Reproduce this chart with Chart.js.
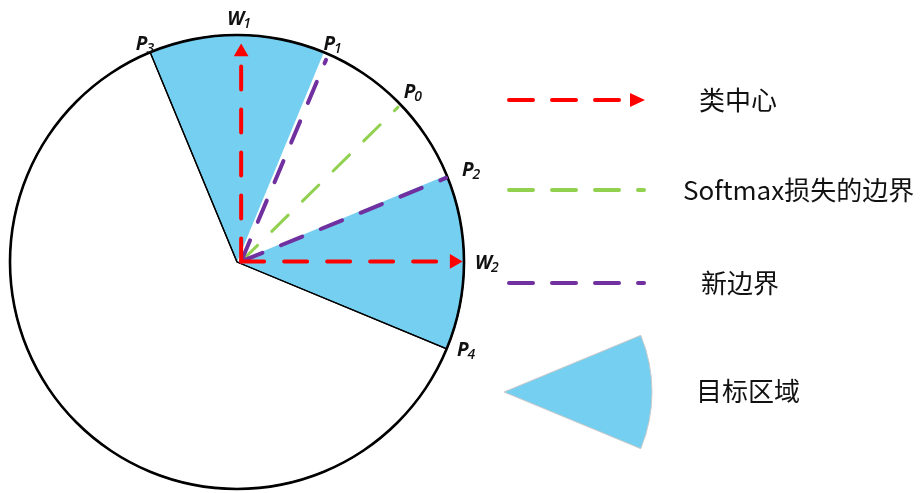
<!DOCTYPE html>
<html>
<head>
<meta charset="utf-8">
<script src="https://cdn.jsdelivr.net/npm/chart.js@4.4.1/dist/chart.umd.min.js"></script>
<style>
  html, body { margin: 0; padding: 0; background: #fff; overflow: hidden; }
  #stage { position: relative; width: 924px; height: 493px; }
  #stage canvas { position: absolute; }
</style>
</head>
<body>
<div id="stage">
  <canvas id="pieFill"></canvas>
  <canvas id="pieEdge"></canvas>
  <canvas id="pieRim"></canvas>
  <canvas id="overlay" width="924" height="493" style="left:0;top:0"></canvas>
</div>
<script>
// ---- 数据 ----
const pointNames = ['W1', 'W2', 'P0', 'P1', 'P2', 'P3', 'P4'];
const pointAngles = [90, 0, 45, 67.5, 22.5, 112.5, -22.5];   // 度，逆时针，0 = 向右
const classCenters = ['W1', 'W2'];        // 类中心（红色箭头）
const softmaxBoundary = ['P0'];           // Softmax 损失的边界（绿色）
const newBoundaries = ['P1', 'P2'];       // 新边界（紫色）
const sectorStart = 'P3';                 // 扇区从 P3 开始顺时针
const sectorSpans = [45, 45, 45, 225];    // P3→P1, P1→P2, P2→P4, P4→P3
const sectorIsTarget = [true, false, true, false];
const edgeSpans = [135, 225];             // 黑色半径：P3→P4, P4→P3
const rimSpans = [360];                   // 整个圆周
const legendLabels = ['类中心', 'Softmax损失的边界', '新边界', '目标区域'];

// ---- 布局 / 样式 ----
const CX = 237, CY = 262, R = 227;
const RIM = 2.6;
const BLUE = '#75CFF0';
const RED = '#FF0000';
const GREEN = '#92D050';
const PURPLE = '#7030A0';
const DASH = [23, 20];
const ARROW_R = 8.5;
const CJK_FONT = '"Noto Sans CJK SC", "Noto Sans", sans-serif';
const LABEL_FONT = '"Open Sans", "Liberation Sans", sans-serif';

// 标签相对圆上点的偏移（左基线）
const labelOffset = {
  W1: [-14, -17], W2: [11, 8], P0: [5, -8], P1: [-3, -9],
  P2: [15, -2], P3: [-20, -9], P4: [10, 11],
};

function angleOf(name) {
  return pointAngles[pointNames.indexOf(name)];
}
function onCircle(deg, r) {
  const a = deg * Math.PI / 180;
  return { x: CX + r * Math.cos(a), y: CY - r * Math.sin(a) };
}
// 饼图旋转：Chart.js 0 = 顶部，顺时针
const pieRotation = 90 - angleOf(sectorStart);

const quiet = {
  responsive: false,
  animation: false,
  events: [],
  layout: { padding: 0 },
  plugins: { legend: { display: false }, tooltip: { enabled: false } },
};

function placePie(id) {
  const c = document.getElementById(id);
  const size = 2 * (R + 5);
  c.width = size;
  c.height = size;
  c.style.left = (CX - R - 5) + 'px';
  c.style.top = (CY - R - 5) + 'px';
  return c;
}

function pieChart(id, spans, fill, border, width, radius, cutout) {
  return new Chart(placePie(id), {
    type: cutout ? 'doughnut' : 'pie',
    data: {
      labels: spans.map((_, i) => id + i),
      datasets: [{
        data: spans,
        backgroundColor: fill,
        borderColor: border,
        borderWidth: width,
        hoverOffset: 0,
      }],
    },
    options: { ...quiet, rotation: pieRotation, radius: radius, cutout: cutout || 0 },
  });
}

// 目标区域（蓝色扇区）
pieChart('pieFill', sectorSpans,
  sectorIsTarget.map(t => t ? BLUE : 'rgba(0,0,0,0)'), 'rgba(0,0,0,0)', 0, R);
// P3 / P4 黑色半径
pieChart('pieEdge', edgeSpans, 'rgba(0,0,0,0)', '#000', 1.3, R);
// 圆周（细环）
pieChart('pieRim', rimSpans, '#000', 'rgba(0,0,0,0)', 0, R + RIM / 2,
  ((R - RIM / 2) / (R + RIM / 2) * 100) + '%');

// 从圆心出发的线
function rayDataset(name, color, width, arrow) {
  const deg = angleOf(name);
  const end = arrow ? onCircle(deg, R - 1.5 - ARROW_R) : onCircle(deg, R - 1);
  return {
    data: [{ x: CX, y: CY }, end],
    showLine: true,
    borderColor: color,
    borderWidth: width,
    borderDash: DASH,
    borderCapStyle: 'round',
    tension: 0,
    fill: false,
    pointRadius: [0, arrow ? ARROW_R : 0],
    pointStyle: 'triangle',
    pointRotation: [0, 90 - deg],
    pointBackgroundColor: color,
    pointBorderWidth: 0,
  };
}

const datasets = [
  ...classCenters.map(n => rayDataset(n, RED, 4, true)),
  ...newBoundaries.map(n => rayDataset(n, PURPLE, 4, false)),
  ...softmaxBoundary.map(n => rayDataset(n, GREEN, 3, false)),
];

function dashedLine(ctx, x0, x1, y, color, width) {
  ctx.save();
  ctx.strokeStyle = color;
  ctx.lineWidth = width;
  ctx.lineCap = 'round';
  ctx.setLineDash([24, 19]);
  ctx.beginPath();
  ctx.moveTo(x0, y);
  ctx.lineTo(x1, y);
  ctx.stroke();
  ctx.restore();
}

const annotations = {
  id: 'annotations',
  afterDatasetsDraw(chart) {
    const ctx = chart.ctx;
    const xs = chart.scales.x, ys = chart.scales.y;

    // 点标签
    pointNames.forEach(name => {
      const p = onCircle(angleOf(name), R);
      const [dx, dy] = labelOffset[name];
      const x = xs.getPixelForValue(p.x) + dx;
      const y = ys.getPixelForValue(p.y) + dy;
      ctx.save();
      ctx.fillStyle = '#111';
      ctx.textBaseline = 'alphabetic';
      ctx.font = 'italic bold 19px ' + LABEL_FONT;
      ctx.fillText(name[0], x, y);
      const w = ctx.measureText(name[0]).width;
      ctx.font = 'italic 600 14px ' + LABEL_FONT;
      ctx.fillText(name.slice(1), x + w - 1, y + 3);
      ctx.restore();
    });

    // 图例
    dashedLine(ctx, 509, 620, 100, RED, 4);
    ctx.save();
    ctx.fillStyle = RED;
    ctx.beginPath();
    ctx.moveTo(645, 100);
    ctx.lineTo(630, 93);
    ctx.lineTo(630, 107);
    ctx.closePath();
    ctx.fill();
    ctx.restore();

    dashedLine(ctx, 509, 644, 190, GREEN, 4);
    dashedLine(ctx, 509, 644, 283, PURPLE, 4);

    ctx.save();
    const ax = 504, ay = 392, wr = 148, half = 22.5 * Math.PI / 180;
    ctx.fillStyle = BLUE;
    ctx.strokeStyle = '#c9c9c9';
    ctx.lineWidth = 1;
    ctx.beginPath();
    ctx.moveTo(ax, ay);
    ctx.arc(ax, ay, wr, -half, half);
    ctx.closePath();
    ctx.fill();
    ctx.stroke();
    ctx.restore();

    ctx.save();
    ctx.fillStyle = '#111';
    ctx.font = '26px ' + CJK_FONT;
    ctx.textBaseline = 'middle';
    const lx = [699, 683, 701, 696];
    const ly = [100, 190, 283, 391];
    legendLabels.forEach((t, i) => ctx.fillText(t, lx[i], ly[i]));
    ctx.restore();
  },
};

new Chart(document.getElementById('overlay'), {
  type: 'scatter',
  data: { datasets },
  options: {
    ...quiet,
    scales: {
      x: { type: 'linear', min: 0, max: 924, display: false },
      y: { type: 'linear', min: 0, max: 493, reverse: true, display: false },
    },
  },
  plugins: [annotations],
});
</script>
</body>
</html>
